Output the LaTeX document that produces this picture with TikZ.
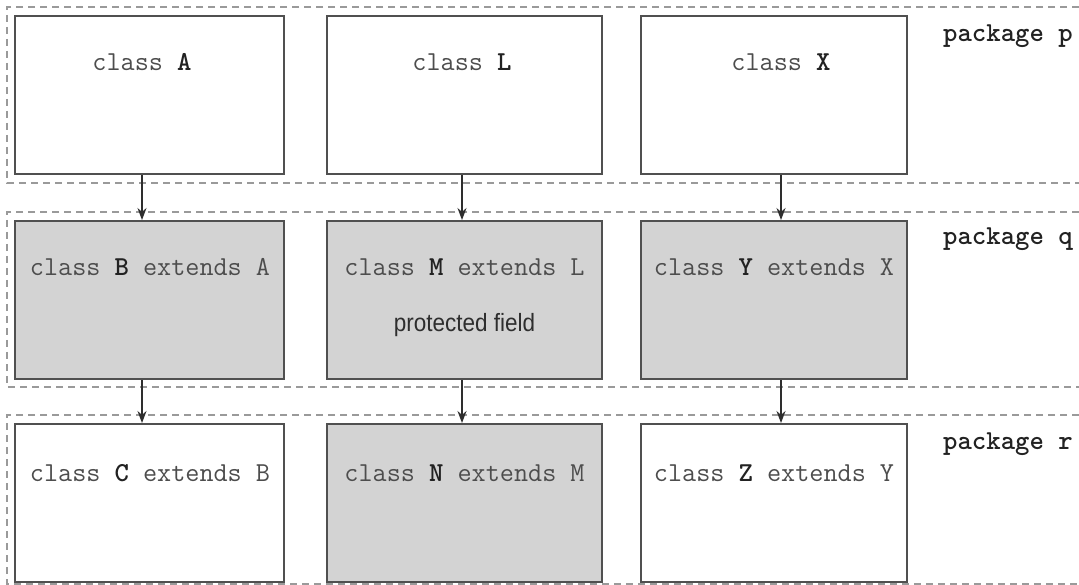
\documentclass[tikz,border=0pt]{standalone}
\usepackage{fontspec}
\usetikzlibrary{arrows.meta}
\newfontfamily\condsans[FakeStretch=0.9]{Liberation Sans}
\definecolor{boxline}{HTML}{505050}
\definecolor{boxfill}{HTML}{D3D3D3}
\definecolor{dashcol}{HTML}{9A9A9A}
\definecolor{txt}{HTML}{4D4D4D}
\definecolor{txtdark}{HTML}{222222}
\definecolor{arrcol}{HTML}{2E2E2E}
\newcommand{\bl}[1]{\textbf{\color{txtdark}#1}}
\begin{document}
\begin{tikzpicture}[x=1pt,y=-1pt,
  classbox/.style={draw=boxline, line width=2pt, fill=white, inner sep=0pt, rectangle},
  shaded/.style={classbox, fill=boxfill},
  colone/.style={minimum width=269pt},
  coltwo/.style={minimum width=275pt},
  colthree/.style={minimum width=266pt},
  rowh/.style={minimum height=158pt},
  ctext/.style={font=\ttfamily\fontsize{27.4}{30}\selectfont, text=txt, inner sep=0pt, anchor=base},
  ptext/.style={font=\ttfamily\bfseries\fontsize{27.4}{30}\selectfont, text=txtdark, inner sep=0pt, anchor=base west},
  note/.style={font=\condsans\fontsize{25}{28}\selectfont, text=arrcol, inner sep=0pt, anchor=base},
  pkgline/.style={draw=dashcol, line width=1.5pt, dash pattern=on 7pt off 5pt},
  arr/.style={draw=arrcol, line width=1.3pt, -{Stealth[length=12pt,width=9pt]}}]
\useasboundingbox (0,0) rectangle (1079,585);
\fill[white] (0,0) rectangle (1079,585);
% package areas
\draw[pkgline] (1079,7) -- (7,7) -- (7,183) -- (1079,183);
\draw[pkgline] (1079,212) -- (7,212) -- (7,387) -- (1079,387);
\draw[pkgline] (1079,415) -- (7,415) -- (7,584) -- (1079,584);
% boxes, package p
\node[classbox, colone, rowh] (A) at (149.5,95) {};
\node[classbox, coltwo, rowh] (L) at (464.5,95) {};
\node[classbox, colthree, rowh] (X) at (774,95) {};
% package q
\node[shaded, colone, rowh] (B) at (149.5,300) {};
\node[shaded, coltwo, rowh] (M) at (464.5,300) {};
\node[shaded, colthree, rowh] (Y) at (774,300) {};
% package r
\node[classbox, colone, rowh] (C) at (149.5,503) {};
\node[shaded, coltwo, rowh] (N) at (464.5,503) {};
\node[classbox, colthree, rowh] (Z) at (774,503) {};
% texts
\node[ctext] (tA) at (142,71) {class \bl{A}};
\node[ctext] (tL) at (462,71) {class \bl{L}};
\node[ctext] (tX) at (781,71) {class \bl{X}};
\node[ctext] (tB) at (150,276) {class \bl{B} extends A};
\node[ctext] (tM) at (464.5,276) {class \bl{M} extends L};
\node[ctext] (tY) at (774,276) {class \bl{Y} extends X};
\node[note] (pf) at (464.5,332) {protected field};
\node[ctext] (tC) at (150,481) {class \bl{C} extends B};
\node[ctext] (tN) at (464.5,481) {class \bl{N} extends M};
\node[ctext] (tZ) at (774,481) {class \bl{Z} extends Y};
% package labels
\node[ptext] (pp) at (943,42) {package p};
\node[ptext] (pq) at (943,245) {package q};
\node[ptext] (pr) at (943,449) {package r};
% arrows
\draw[arr] (A.south -| tA) -- (B.north -| tA);
\draw[arr] (L.south -| tL) -- (M.north -| tL);
\draw[arr] (X.south -| tX) -- (Y.north -| tX);
\draw[arr] (B.south -| tA) -- (C.north -| tA);
\draw[arr] (M.south -| tL) -- (N.north -| tL);
\draw[arr] (Y.south -| tX) -- (Z.north -| tX);
\end{tikzpicture}
\end{document}
